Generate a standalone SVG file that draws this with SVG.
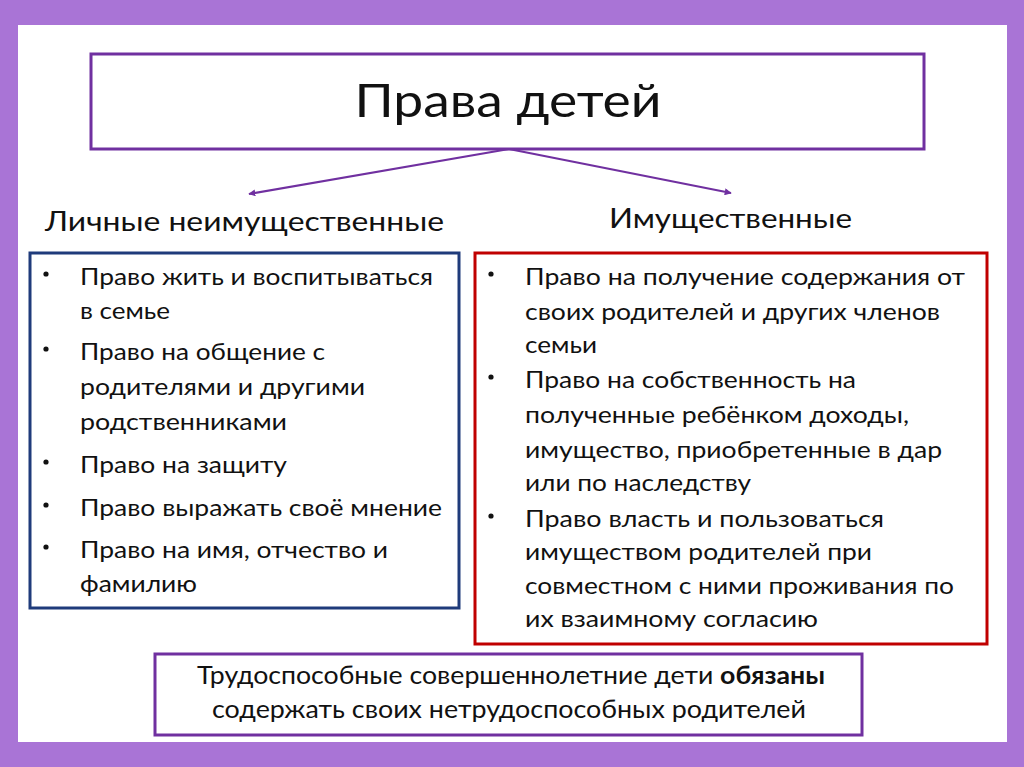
<svg xmlns="http://www.w3.org/2000/svg" width="1024" height="767" viewBox="0 0 1024 767">
<style>
.t{font-family:Lato,"Open Sans","Liberation Sans",sans-serif;fill:#111;}
.li{font-size:24px;}
.box{fill:#fff;stroke-width:3;}
.conn{stroke:#7030A0;stroke-width:2;fill:none;}
</style>
<defs>
<marker id="ah" viewBox="0 0 10 10" refX="9" refY="5" markerWidth="7" markerHeight="7" markerUnits="userSpaceOnUse" orient="auto">
<path d="M0,0 L10,5 L0,10 z" fill="#7030A0"/>
</marker>
</defs>
<rect x="0" y="0" width="1024" height="767" fill="#A974D6"/>
<rect x="18" y="25" width="989" height="717" fill="#fff"/>

<g id="title">
<rect class="box" x="91" y="54" width="833" height="95" stroke="#7030A0"/>
<text class="t" x="508" y="117" font-size="47" text-anchor="middle" textLength="307" lengthAdjust="spacingAndGlyphs">Права детей</text>
</g>

<g id="connectors">
<line class="conn" x1="509" y1="149" x2="249" y2="194" marker-end="url(#ah)"/>
<line class="conn" x1="509" y1="149" x2="731" y2="193" marker-end="url(#ah)"/>
</g>

<g id="label-left">
<text class="t" x="45" y="231" font-size="26" textLength="399" lengthAdjust="spacingAndGlyphs">Личные неимущественные</text>
</g>
<g id="label-right">
<text class="t" x="609" y="228" font-size="26" textLength="243" lengthAdjust="spacingAndGlyphs">Имущественные</text>
</g>

<g id="left-box">
<rect class="box" x="30" y="253" width="429" height="355" stroke="#1F3B7B"/>
<g class="t li">
<circle cx="46" cy="274" r="2.6" fill="#111"/>
<text x="80" y="285" textLength="353" lengthAdjust="spacingAndGlyphs">Право жить и воспитываться</text>
<text x="80" y="319" textLength="90" lengthAdjust="spacingAndGlyphs">в семье</text>
<circle cx="46" cy="349" r="2.6" fill="#111"/>
<text x="80" y="360" textLength="245" lengthAdjust="spacingAndGlyphs">Право на общение с</text>
<text x="80" y="395" textLength="285" lengthAdjust="spacingAndGlyphs">родителями и другими</text>
<text x="80" y="430" textLength="207" lengthAdjust="spacingAndGlyphs">родственниками</text>
<circle cx="46" cy="462" r="2.6" fill="#111"/>
<text x="80" y="473" textLength="207" lengthAdjust="spacingAndGlyphs">Право на защиту</text>
<circle cx="46" cy="505" r="2.6" fill="#111"/>
<text x="80" y="516" textLength="362" lengthAdjust="spacingAndGlyphs">Право выражать своё мнение</text>
<circle cx="46" cy="547" r="2.6" fill="#111"/>
<text x="80" y="558" textLength="308" lengthAdjust="spacingAndGlyphs">Право на имя, отчество и</text>
<text x="80" y="592" textLength="117" lengthAdjust="spacingAndGlyphs">фамилию</text>
</g>
</g>

<g id="right-box">
<rect class="box" x="475" y="253" width="512" height="391" stroke="#C00000"/>
<g class="t li">
<circle cx="491" cy="274" r="2.6" fill="#111"/>
<text x="525" y="285" textLength="440" lengthAdjust="spacingAndGlyphs">Право на получение содержания от</text>
<text x="525" y="320" textLength="415" lengthAdjust="spacingAndGlyphs">своих родителей и других членов</text>
<text x="525" y="353" textLength="72" lengthAdjust="spacingAndGlyphs">семьи</text>
<circle cx="491" cy="377" r="2.6" fill="#111"/>
<text x="525" y="388" textLength="331" lengthAdjust="spacingAndGlyphs">Право на собственность на</text>
<text x="525" y="423" textLength="384" lengthAdjust="spacingAndGlyphs">полученные ребёнком доходы,</text>
<text x="525" y="458" textLength="417" lengthAdjust="spacingAndGlyphs">имущество, приобретенные в дар</text>
<text x="525" y="491" textLength="226" lengthAdjust="spacingAndGlyphs">или по наследству</text>
<circle cx="491" cy="516" r="2.6" fill="#111"/>
<text x="525" y="527" textLength="359" lengthAdjust="spacingAndGlyphs">Право власть и пользоваться</text>
<text x="525" y="560" textLength="347" lengthAdjust="spacingAndGlyphs">имуществом родителей при</text>
<text x="525" y="594" textLength="429" lengthAdjust="spacingAndGlyphs">совместном с ними проживания по</text>
<text x="525" y="627" textLength="293" lengthAdjust="spacingAndGlyphs">их взаимному согласию</text>
</g>
</g>

<g id="bottom-box">
<rect class="box" x="155" y="654" width="707" height="81" stroke="#7030A0"/>
<text class="t" x="197" y="684" font-size="25" textLength="628" lengthAdjust="spacingAndGlyphs">Трудоспособные совершеннолетние дети <tspan font-weight="bold">обязаны</tspan></text>
<text class="t" x="212" y="718" font-size="25" textLength="594" lengthAdjust="spacingAndGlyphs">содержать своих нетрудоспособных родителей</text>
</g>
</svg>
